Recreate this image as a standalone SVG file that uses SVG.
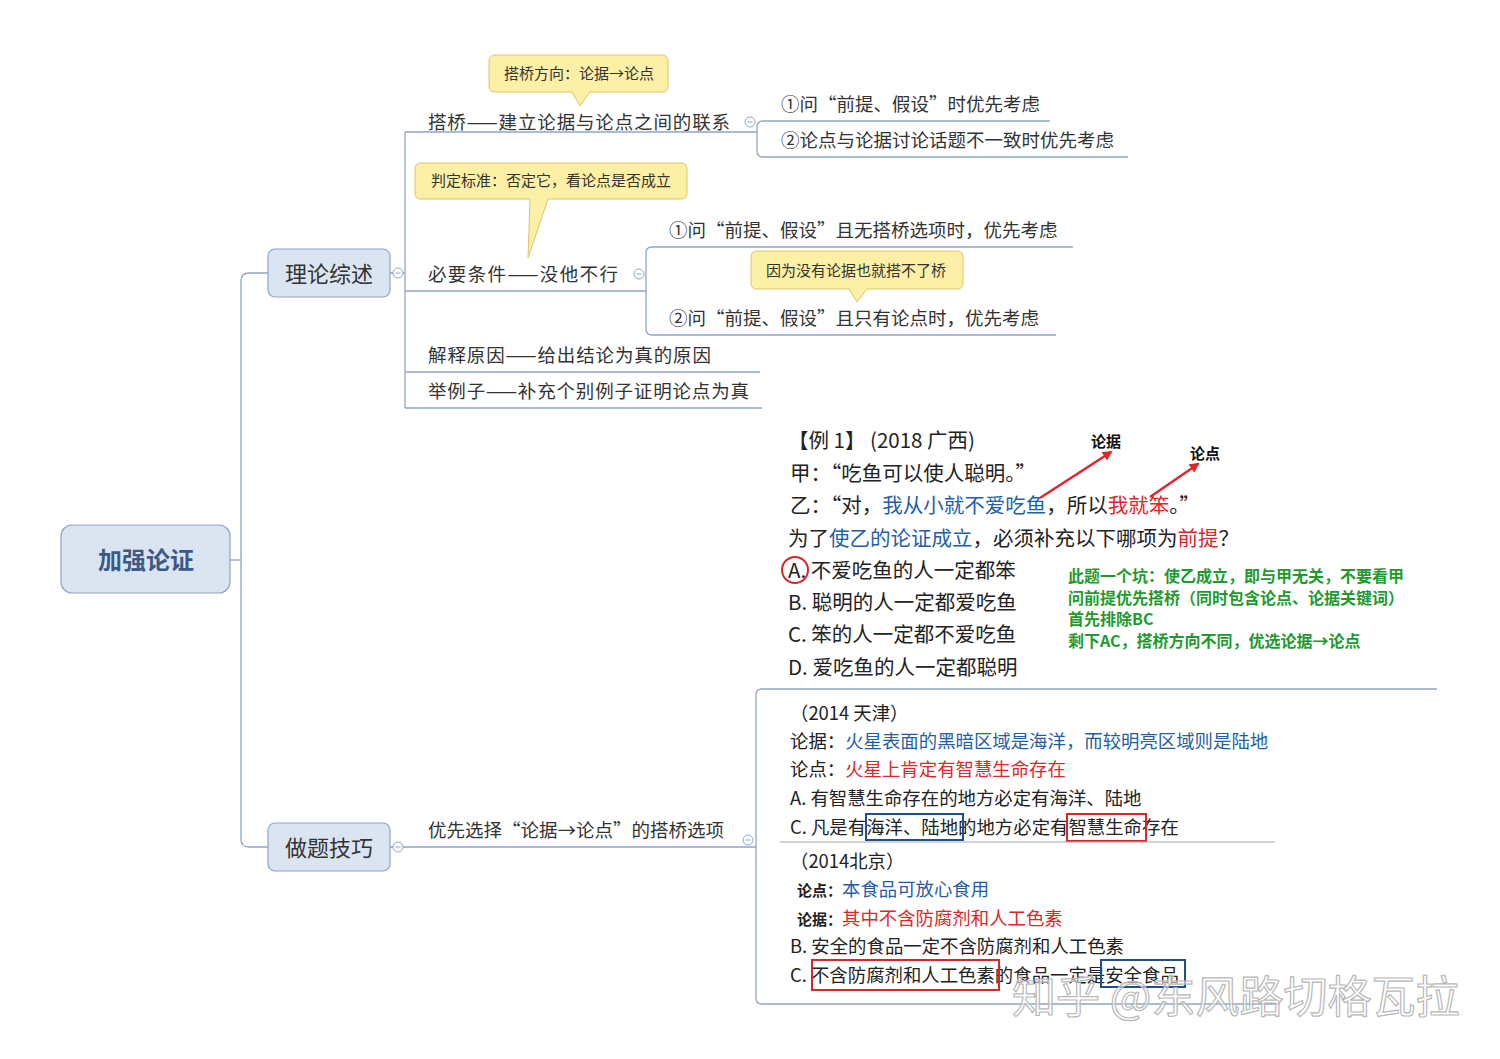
<svg xmlns="http://www.w3.org/2000/svg" width="1500" height="1059" viewBox="0 0 1500 1059">
<defs>
<style>
text{font-family:"Noto Sans CJK SC","Noto Sans",sans-serif;}
.t{fill:#333;font-size:18.5px}
.ln{stroke:#8ea6c6;stroke-width:1.3;fill:none}
.node{fill:#dbe5f1;stroke:#8aa5c9;stroke-width:1.2}
.callout{fill:#fcefa6;stroke:#dfc46a;stroke-width:1}
.ct{fill:#333;font-size:15px;text-anchor:middle}
.cc{fill:#fff;stroke:#8ea6c6;stroke-width:1}
.mn{stroke:#8ea6c6;stroke-width:1}
.ex{fill:#222;font-size:20.5px}
.ex2{fill:#222;font-size:18.4px}
.blue{fill:#1f5ea8}
.red{fill:#e0262a}
.green{fill:#1e9a2e;font-size:16px;font-weight:bold}
.lbl{fill:#111;font-size:15px;font-weight:bold}
</style>
<marker id="ah" markerWidth="10" markerHeight="10" refX="8" refY="5" orient="auto" markerUnits="userSpaceOnUse">
<path d="M0,0 L10,5 L0,10 Z" fill="#e0262a"/>
</marker>
</defs>
<rect width="1500" height="1059" fill="#ffffff"/>

<g id="connectors">
<path class="ln" d="M230,560 H241"/>
<path class="ln" d="M268,273 H249 Q241,273 241,281 V839 Q241,847 249,847 H268"/>
<path class="ln" d="M390,273 H393 M403,273 H405"/>
<path class="ln" d="M405,132 V408"/>
<path class="ln" d="M405,132 H757"/>
<path class="ln" d="M1050,121 H763 Q757,121 757,127 V151 Q757,157 763,157 H1128"/>
<path class="ln" d="M405,291 H646"/>
<path class="ln" d="M1073,247 H652 Q646,247 646,253 V329 Q646,335 652,335 H1056"/>
<path class="ln" d="M405,372 H760"/>
<path class="ln" d="M405,408 H762"/>
<path class="ln" d="M390,847 H393 M403,847 H756"/>
<path class="ln" d="M1437,689 H762 Q756,689 756,695 V998 Q756,1004 762,1004 H1280"/>
<circle class="cc" cx="398" cy="273" r="5"/>
<line class="mn" x1="395.5" y1="273" x2="400.5" y2="273"/>
<circle class="cc" cx="398" cy="847" r="5"/>
<line class="mn" x1="395.5" y1="847" x2="400.5" y2="847"/>
<circle class="cc" cx="750" cy="122" r="5"/>
<line class="mn" x1="747.5" y1="122" x2="752.5" y2="122"/>
<circle class="cc" cx="639" cy="274" r="5"/>
<line class="mn" x1="636.5" y1="274" x2="641.5" y2="274"/>
<circle class="cc" cx="748" cy="840" r="5"/>
<line class="mn" x1="745.5" y1="840" x2="750.5" y2="840"/>
</g>

<g id="root">
<rect class="node" x="61" y="525" width="169" height="68" rx="11"/>
<text x="146" y="569" text-anchor="middle" font-size="24" font-weight="bold" fill="#3b5a86">加强论证</text>
</g>

<g id="n-lilun">
<rect class="node" x="268" y="249" width="122" height="48" rx="7"/>
<text x="329" y="282" text-anchor="middle" font-size="22" fill="#333">理论综述</text>
</g>

<g id="n-zuoti">
<rect class="node" x="268" y="823" width="122" height="48" rx="7"/>
<text x="329" y="856" text-anchor="middle" font-size="22" fill="#333">做题技巧</text>
</g>

<g id="n-daqiao">
<text class="t" x="428" y="129" textLength="302" lengthAdjust="spacing">搭桥——建立论据与论点之间的联系</text>
</g>
<g id="n-daqiao-1">
<text class="t" x="781" y="111">①问“前提、假设”时优先考虑</text>
</g>
<g id="n-daqiao-2">
<text class="t" x="781" y="147">②论点与论据讨论话题不一致时优先考虑</text>
</g>
<g id="n-biyao">
<text class="t" x="428" y="281" textLength="190" lengthAdjust="spacing">必要条件——没他不行</text>
</g>
<g id="n-biyao-1">
<text class="t" x="669" y="237">①问“前提、假设”且无搭桥选项时，优先考虑</text>
</g>
<g id="n-biyao-2">
<text class="t" x="669" y="325">②问“前提、假设”且只有论点时，优先考虑</text>
</g>
<g id="n-jieshi">
<text class="t" x="428" y="362" textLength="283" lengthAdjust="spacing">解释原因——给出结论为真的原因</text>
</g>
<g id="n-juli">
<text class="t" x="428" y="398" textLength="321" lengthAdjust="spacing">举例子——补充个别例子证明论点为真</text>
</g>
<g id="n-youxian">
<text class="t" x="428" y="837">优先选择“论据→论点”的搭桥选项</text>
</g>

<g id="callout-1">
<path class="callout" d="M495,55 H662 Q668,55 668,61 V86 Q668,92 662,92 H590 L580,106 L572,92 H495 Q489,92 489,86 V61 Q489,55 495,55 Z"/>
<text class="ct" x="579" y="79">搭桥方向：论据→论点</text>
</g>
<g id="callout-2">
<path class="callout" d="M421,163 H681 Q687,163 687,169 V193 Q687,199 681,199 H548 L528,258 L530,199 H421 Q415,199 415,193 V169 Q415,163 421,163 Z"/>
<text class="ct" x="551" y="186">判定标准：否定它，看论点是否成立</text>
</g>
<g id="callout-3">
<path class="callout" d="M757,251 H957 Q963,251 963,257 V283 Q963,289 957,289 H867 L857,302 L849,289 H757 Q751,289 751,283 V257 Q751,251 757,251 Z"/>
<text class="ct" x="856" y="276">因为没有论据也就搭不了桥</text>
</g>

<g id="example-1">
<text class="ex" x="788" y="448">【例 1】 (2018 广西)</text>
<text class="lbl" x="1091" y="447">论据</text>
<text class="lbl" x="1190" y="459">论点</text>
<text class="ex" x="790" y="481">甲：“吃鱼可以使人聪明。”</text>
<text class="ex" x="790" y="513">乙：“对，<tspan class="blue">我从小就不爱吃鱼</tspan>，所以<tspan class="red">我就笨</tspan>。”</text>
<text class="ex" x="788" y="546">为了<tspan class="blue">使乙的论证成立</tspan>，必须补充以下哪项为<tspan class="red">前提</tspan>？</text>
<text class="ex" x="788" y="578">A. 不爱吃鱼的人一定都笨</text>
<circle cx="795" cy="570" r="13" fill="none" stroke="#d8262a" stroke-width="2"/>
<text class="ex" x="788" y="610">B. 聪明的人一定都爱吃鱼</text>
<text class="ex" x="788" y="642">C. 笨的人一定都不爱吃鱼</text>
<text class="ex" x="788" y="675">D. 爱吃鱼的人一定都聪明</text>
<line x1="1040" y1="498" x2="1111" y2="452" stroke="#e0262a" stroke-width="2.5" marker-end="url(#ah)"/>
<line x1="1150" y1="497" x2="1198" y2="464" stroke="#e0262a" stroke-width="2.5" marker-end="url(#ah)"/>
<text class="green" x="1068" y="582">此题一个坑：使乙成立，即与甲无关，不要看甲</text>
<text class="green" x="1068" y="604">问前提优先搭桥（同时包含论点、论据关键词）</text>
<text class="green" x="1068" y="625">首先排除BC</text>
<text class="green" x="1068" y="647">剩下AC，搭桥方向不同，优选论据→论点</text>
</g>

<g id="example-2">
<text class="ex2" x="790" y="720">（2014 天津）</text>
<text class="ex2" x="790" y="748">论据：<tspan class="blue">火星表面的黑暗区域是海洋，而较明亮区域则是陆地</tspan></text>
<text class="ex2" x="790" y="776">论点：<tspan class="red">火星上肯定有智慧生命存在</tspan></text>
<text class="ex2" x="790" y="805">A. 有智慧生命存在的地方必定有海洋、陆地</text>
<text class="ex2" x="790" y="834">C. 凡是有海洋、陆地的地方必定有智慧生命存在</text>
<rect x="866" y="814" width="97" height="26" fill="none" stroke="#1f4f8f" stroke-width="2"/>
<rect x="1067" y="814" width="79" height="27" fill="none" stroke="#d8262a" stroke-width="2"/>
<line x1="780" y1="842" x2="1275" y2="842" stroke="#a8a8a8" stroke-width="1"/>
<text class="ex2" x="790" y="868">（2014北京）</text>
<text x="797" y="896" font-size="15" font-weight="bold" fill="#222">论点：<tspan class="blue" font-size="18.4" font-weight="normal">本食品可放心食用</tspan></text>
<text x="797" y="925" font-size="15" font-weight="bold" fill="#222">论据：<tspan class="red" font-size="18.4" font-weight="normal">其中不含防腐剂和人工色素</tspan></text>
<text class="ex2" x="790" y="953">B. 安全的食品一定不含防腐剂和人工色素</text>
<text class="ex2" x="790" y="982">C. 不含防腐剂和人工色素的食品一定是安全食品</text>
<rect x="812" y="960" width="187" height="30" fill="none" stroke="#d8262a" stroke-width="2"/>
<rect x="1101" y="960" width="84" height="27" fill="none" stroke="#1f4f8f" stroke-width="2"/>
</g>

<g id="watermark">
<text x="1012" y="1013" font-size="44" fill="#ffffff" fill-opacity="0.55" stroke="#b8b8b8" stroke-width="1.2">知乎 @东风路切格瓦拉</text>
</g>
</svg>
